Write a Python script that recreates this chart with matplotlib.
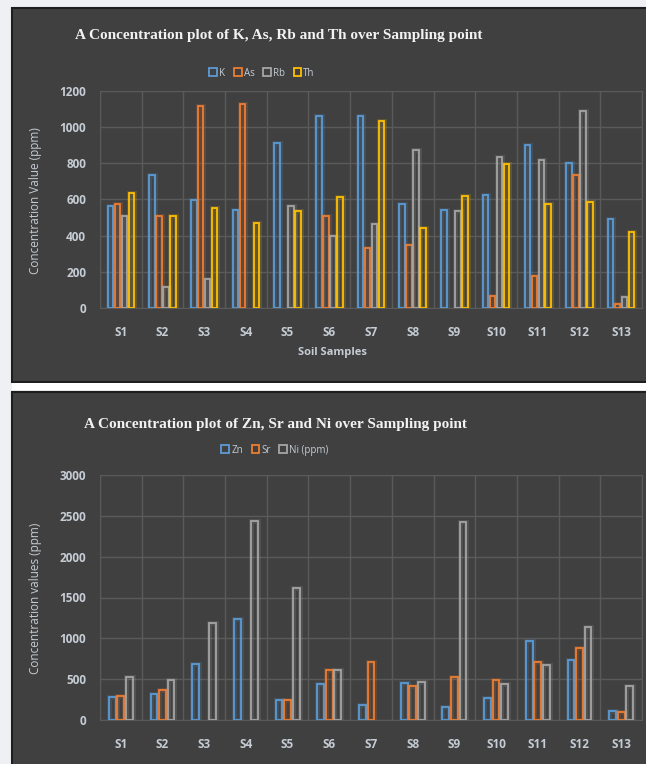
import numpy as np
import matplotlib
matplotlib.use("Agg")
import matplotlib.pyplot as plt
from matplotlib.patches import Rectangle, Patch
import matplotlib.patheffects as pe

# data
samples = ["S1", "S2", "S3", "S4", "S5", "S6", "S7", "S8", "S9", "S10", "S11", "S12", "S13"]

k_vals  = [566, 734, 597, 544, 915, 1063, 1063, 573, 542, 627, 899, 804, 490]
as_vals = [573, 510, 1115, 1130, 0, 510, 333, 349, 0, 68, 178, 736, 22]
rb_vals = [510, 116, 163, 0, 566, 398, 464, 875, 534, 836, 821, 1091, 61]
th_vals = [634, 510, 551, 471, 534, 612, 1032, 442, 619, 799, 573, 588, 418]

zn_vals = [281, 318, 681, 1239, 249, 440, 179, 448, 163, 265, 966, 730, 114]
sr_vals = [298, 367, 0, 0, 249, 607, 705, 416, 522, 489, 705, 876, 94]
ni_vals = [522, 485, 1186, 2437, 1618, 607, 0, 469, 2421, 436, 677, 1141, 416]

BLUE, ORANGE, GRAY, GOLD = "#5b9bd5", "#ed7d31", "#a5a5a5", "#ffc000"
PANEL = "#404040"
GRID = "#5a5a5a"
TXT = "#c5ccd4"

W, H = 646, 764
fig = plt.figure(figsize=(W / 100, H / 100), dpi=100, facecolor="#eef0f3")


def box(x0, y0, x1, y1):
    # pixel box (top-left origin) -> figure fraction rect
    return [x0 / W, 1 - y1 / H, (x1 - x0) / W, (y1 - y0) / H]


def panel(x0, y0, x1, y1):
    l, b, w, h = box(x0, y0, x1, y1)
    fig.patches.append(Rectangle((l, b), w, h, transform=fig.transFigure,
                                 facecolor=PANEL, edgecolor="#1e1e1e", lw=1.5, zorder=-2))


panel(12, 8, 660, 382)
panel(12, 392, 660, 775)
# white gap between the two charts
l, b, w, h = box(12, 383, 660, 390)
fig.patches.append(Rectangle((l, b), w, h, transform=fig.transFigure,
                             facecolor="white", edgecolor="none", zorder=-1))


def glow(c):
    return [pe.Stroke(linewidth=3.5, foreground=c, alpha=0.18), pe.Normal()]


def draw_chart(rect, series, colors, bw, ymax, ystep):
    ax = fig.add_axes(box(*rect))
    ax.set_zorder(2)
    ax.set_facecolor(PANEL)
    x = np.arange(len(samples))
    n = len(series)
    for i, (vals, c) in enumerate(zip(series, colors)):
        vals = np.array(vals, dtype=float)
        off = (i - (n - 1) / 2) * bw * 1.08
        m = vals > 0
        bars = ax.bar(x[m] + off, vals[m], width=bw * 0.85, facecolor="none",
                      edgecolor=c, linewidth=1.3, zorder=3)
        for bb in bars:
            bb.set_path_effects(glow(c))
    ax.set_xlim(-0.5, len(samples) - 0.5)
    ax.set_ylim(0, ymax)
    ax.set_yticks(np.arange(0, ymax + 1, ystep))
    ax.set_xticks(x)
    ax.set_xticklabels(samples)
    ax.set_xticks(np.arange(-0.5, len(samples), 1), minor=True)
    ax.grid(True, axis="y", which="major", color=GRID, lw=1)
    ax.grid(True, axis="x", which="minor", color=GRID, lw=1)
    ax.grid(False, axis="x", which="major")
    ax.tick_params(which="both", length=0)
    ax.tick_params(axis="x", pad=13, colors=TXT, labelsize=8.5)
    ax.tick_params(axis="y", pad=10, colors=TXT, labelsize=8.5)
    for t in ax.get_xticklabels() + ax.get_yticklabels():
        t.set_fontweight("bold")
        t.set_family("Open Sans")
    for s in ax.spines.values():
        s.set_color(GRID)
    ax.set_axisbelow(True)
    return ax


ax1 = draw_chart((100, 91, 642, 308), [k_vals, as_vals, rb_vals, th_vals],
                 [BLUE, ORANGE, GRAY, GOLD], 0.155, 1200, 200)
ax2 = draw_chart((100, 475, 642, 720), [zn_vals, sr_vals, ni_vals],
                 [BLUE, ORANGE, GRAY], 0.19, 3000, 500)

title_kw = dict(family="Liberation Serif", fontweight="bold", fontsize=11,
                color="#f2f2f2", ha="center", va="center")
fig.text(279 / W, 1 - 35 / H, "A Concentration plot of K, As, Rb and Th over Sampling point", **title_kw)
fig.text(275 / W, 1 - 425 / H, "A Concentration plot of Zn, Sr and Ni over Sampling point", **title_kw)

lab_kw = dict(family="Open Sans", fontsize=8.5, color=TXT, rotation=90, ha="center", va="center")
fig.text(36 / W, 1 - 201 / H, "Concentration Value (ppm)", **lab_kw)
fig.text(36 / W, 1 - 598 / H, "Concentration values (ppm)", **lab_kw)
fig.text(332 / W, 1 - 353 / H, "Soil Samples", family="Open Sans", fontsize=8,
         fontweight="bold", color=TXT, ha="center", va="center")


def legend(labels, colors, cx, cy):
    handles = [Patch(facecolor="none", edgecolor=c, linewidth=1.3, label=t)
               for t, c in zip(labels, colors)]
    fig.legend(handles=handles, loc="center", bbox_to_anchor=(cx / W, 1 - cy / H),
               ncol=len(handles), frameon=False, labelcolor=TXT,
               handlelength=0.8, handleheight=0.8, handletextpad=0.2,
               columnspacing=0.9, prop={"family": "Open Sans", "size": 7})


legend(["K", "As", "Rb", "Th"], [BLUE, ORANGE, GRAY, GOLD], 262, 73)
legend(["Zn", "Sr", "Ni (ppm)"], [BLUE, ORANGE, GRAY], 275, 450)

fig.savefig("out.png", dpi=100, facecolor=fig.get_facecolor())
